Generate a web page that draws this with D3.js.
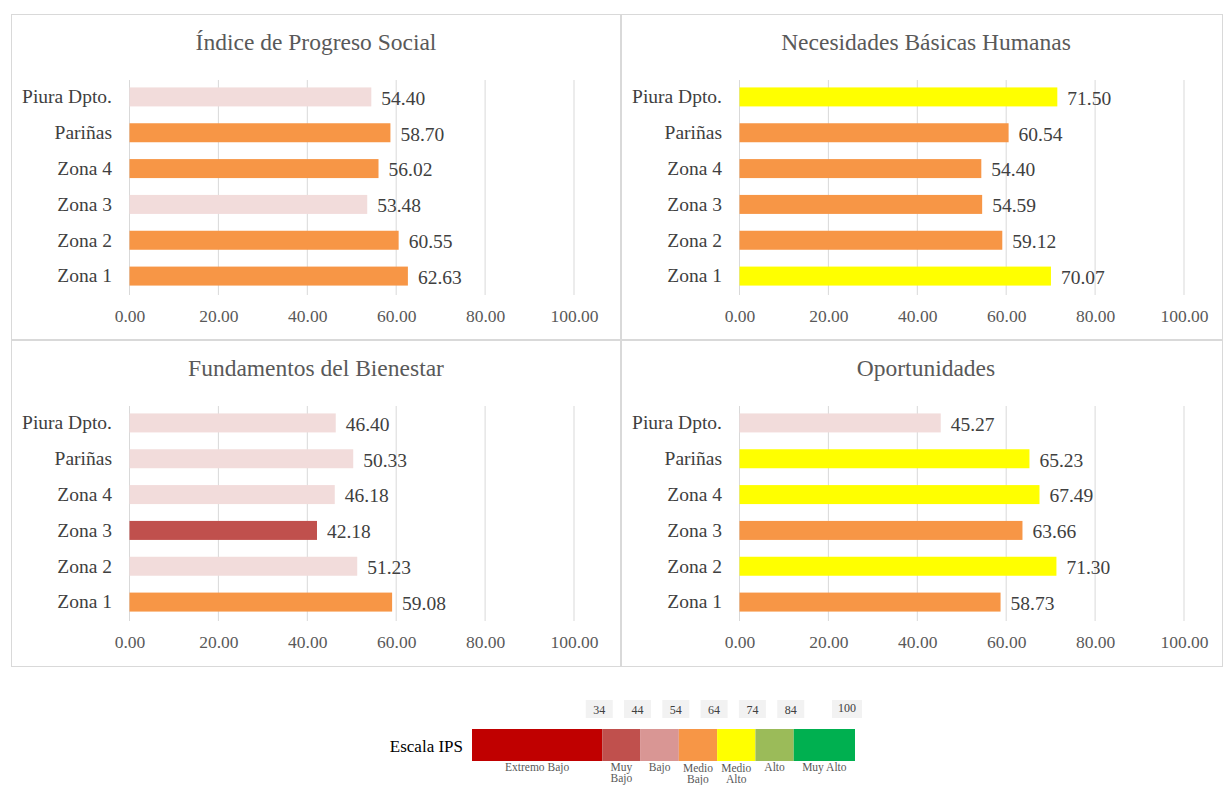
<!DOCTYPE html>
<html>
<head>
<meta charset="utf-8">
<script src="https://cdn.jsdelivr.net/npm/d3@7"></script>
<style>
  body { margin: 0; background: #fff; }
  svg text { font-family: "Liberation Serif", "Times New Roman", serif; }
</style>
</head>
<body>
<div id="chart"></div>
<script>
// categories, top to bottom
const categories = ["Piura Dpto.", "Pariñas", "Zona 4", "Zona 3", "Zona 2", "Zona 1"];

const titles = ["Índice de Progreso Social", "Necesidades Básicas Humanas",
                "Fundamentos del Bienestar", "Oportunidades"];

const ipsValues = [54.40, 58.70, 56.02, 53.48, 60.55, 62.63];
const nbhValues = [71.50, 60.54, 54.40, 54.59, 59.12, 70.07];
const fbValues  = [46.40, 50.33, 46.18, 42.18, 51.23, 59.08];
const opValues  = [45.27, 65.23, 67.49, 63.66, 71.30, 58.73];

// level of each bar as coloured in the source
const ipsLevels = ["Bajo", "Medio Bajo", "Medio Bajo", "Bajo", "Medio Bajo", "Medio Bajo"];
const nbhLevels = ["Medio Alto", "Medio Bajo", "Medio Bajo", "Medio Bajo", "Medio Bajo", "Medio Alto"];
const fbLevels  = ["Bajo", "Bajo", "Bajo", "Muy Bajo", "Bajo", "Medio Bajo"];
const opLevels  = ["Bajo", "Medio Alto", "Medio Alto", "Medio Bajo", "Medio Alto", "Medio Bajo"];

const xTicks = [0, 20, 40, 60, 80, 100];

// scale legend
const scaleLevels = ["Extremo Bajo", "Muy Bajo", "Bajo", "Medio Bajo", "Medio Alto", "Alto", "Muy Alto"];
const scaleBreaks = [0, 34, 44, 54, 64, 74, 84, 100];
const scaleColors = ["#C00000", "#C0504D", "#D99694", "#F79646", "#FFFF00", "#9BBB59", "#00B050"];

// bars use a lighter pink for "Bajo"
const barColor = d3.scaleOrdinal()
  .domain(scaleLevels)
  .range(["#C00000", "#C0504D", "#F2DCDB", "#F79646", "#FFFF00", "#9BBB59", "#00B050"]);

const serif = "'Liberation Serif', 'Times New Roman', serif";
const width = 1223, height = 785;

const svg = d3.select("#chart").append("svg")
  .attr("width", width)
  .attr("height", height);

const panels = [
  {x: 11,  y: 14,  w: 610, h: 326, title: titles[0], values: ipsValues, levels: ipsLevels},
  {x: 621, y: 14,  w: 602, h: 326, title: titles[1], values: nbhValues, levels: nbhLevels},
  {x: 11,  y: 340, w: 610, h: 327, title: titles[2], values: fbValues,  levels: fbLevels},
  {x: 621, y: 340, w: 602, h: 327, title: titles[3], values: opValues,  levels: opLevels}
];

panels.forEach(function(p) {
  const g = svg.append("g").attr("transform", "translate(" + p.x + "," + p.y + ")");

  g.append("rect")
    .attr("x", 0.5).attr("y", 0.5)
    .attr("width", p.w - 1).attr("height", p.h - 1)
    .attr("fill", "#fff")
    .attr("stroke", "#D9D9D9");

  g.append("text")
    .attr("x", 305)
    .attr("y", 28)
    .attr("dy", "0.35em")
    .attr("text-anchor", "middle")
    .attr("font-size", 23.5)
    .attr("font-family", serif)
    .attr("fill", "#595959")
    .text(p.title);

  const x = d3.scaleLinear().domain([0, 100]).range([118.5, 563]);
  const y = d3.scaleBand().domain(categories).range([65, 280])
    .paddingInner(0.47).paddingOuter(0.235);

  // gridlines
  g.selectAll(".grid")
    .data(xTicks)
    .enter().append("line")
    .attr("x1", d => x(d)).attr("x2", d => x(d))
    .attr("y1", 66).attr("y2", 281)
    .attr("stroke", "#D9D9D9");

  // x axis labels
  const xAxis = g.append("g")
    .attr("transform", "translate(0,281)")
    .call(d3.axisBottom(x).tickValues(xTicks).tickFormat(d3.format(".2f")).tickSize(0).tickPadding(15));
  xAxis.select(".domain").remove();
  xAxis.selectAll("text")
    .attr("font-size", 17.5)
    .attr("font-family", serif)
    .attr("fill", "#595959");

  // category labels
  const yAxis = g.append("g")
    .attr("transform", "translate(101,0)")
    .call(d3.axisLeft(y).tickSize(0).tickPadding(0));
  yAxis.select(".domain").remove();
  yAxis.selectAll("text")
    .attr("font-size", 19.5)
    .attr("font-family", serif)
    .attr("fill", "#404040");

  const rows = categories.map((c, i) => ({cat: c, value: p.values[i], level: p.levels[i]}));

  g.selectAll(".bar")
    .data(rows)
    .enter().append("rect")
    .attr("x", x(0))
    .attr("y", d => y(d.cat))
    .attr("width", d => x(d.value) - x(0))
    .attr("height", y.bandwidth())
    .attr("fill", d => barColor(d.level));

  g.selectAll(".val")
    .data(rows)
    .enter().append("text")
    .attr("x", d => x(d.value) + 10)
    .attr("y", d => y(d.cat) + y.bandwidth() / 2 + 1)
    .attr("dy", "0.35em")
    .attr("font-size", 19.5)
    .attr("font-family", serif)
    .attr("fill", "#404040")
    .text(d => d.value.toFixed(2));
});

// legend: Escala IPS
const lx = d3.scaleLinear().domain([0, 100]).range([472, 855]);
const legend = svg.append("g");

legend.append("text")
  .attr("x", 463)
  .attr("y", 746)
  .attr("dy", "0.35em")
  .attr("text-anchor", "end")
  .attr("font-size", 17)
  .attr("font-family", serif)
  .attr("fill", "#000")
  .text("Escala IPS");

legend.selectAll(".seg")
  .data(scaleLevels)
  .enter().append("rect")
  .attr("x", (d, i) => lx(scaleBreaks[i]))
  .attr("y", 729)
  .attr("width", (d, i) => lx(scaleBreaks[i + 1]) - lx(scaleBreaks[i]))
  .attr("height", 32)
  .attr("fill", (d, i) => scaleColors[i]);

const breakLabels = scaleBreaks.slice(1);
const bl = legend.selectAll(".brk")
  .data(breakLabels)
  .enter().append("g")
  .attr("transform", d => "translate(" + (lx(d) - (d === 100 ? 8 : 3)) + ",709)");
bl.append("rect")
  .attr("x", d => d === 100 ? -15 : -13.5)
  .attr("y", -9)
  .attr("width", d => d === 100 ? 30 : 27)
  .attr("height", 18)
  .attr("fill", "#F2F2F2");
bl.append("text")
  .attr("text-anchor", "middle")
  .attr("y", d => d === 100 ? -1 : 1)
  .attr("dy", "0.35em")
  .attr("font-size", 12)
  .attr("font-family", serif)
  .attr("fill", "#404040")
  .text(d => d);

const lvlLabels = legend.selectAll(".lvl")
  .data(scaleLevels)
  .enter().append("text")
  .attr("x", (d, i) => (lx(scaleBreaks[i]) + lx(scaleBreaks[i + 1])) / 2)
  .attr("y", 771)
  .attr("text-anchor", "middle")
  .attr("font-size", 11.5)
  .attr("font-family", serif)
  .attr("fill", "#595959");

lvlLabels.each(function(d) {
  const t = d3.select(this);
  const words = (d === "Extremo Bajo" || d === "Bajo" || d === "Alto" || d === "Muy Alto") ? [d] : d.split(" ");
  words.forEach((w, k) => {
    t.append("tspan")
      .attr("x", t.attr("x"))
      .attr("dy", k === 0 ? (d.startsWith("Medio") ? 1 : 0) : 10.5)
      .text(w);
  });
});
</script>
</body>
</html>
